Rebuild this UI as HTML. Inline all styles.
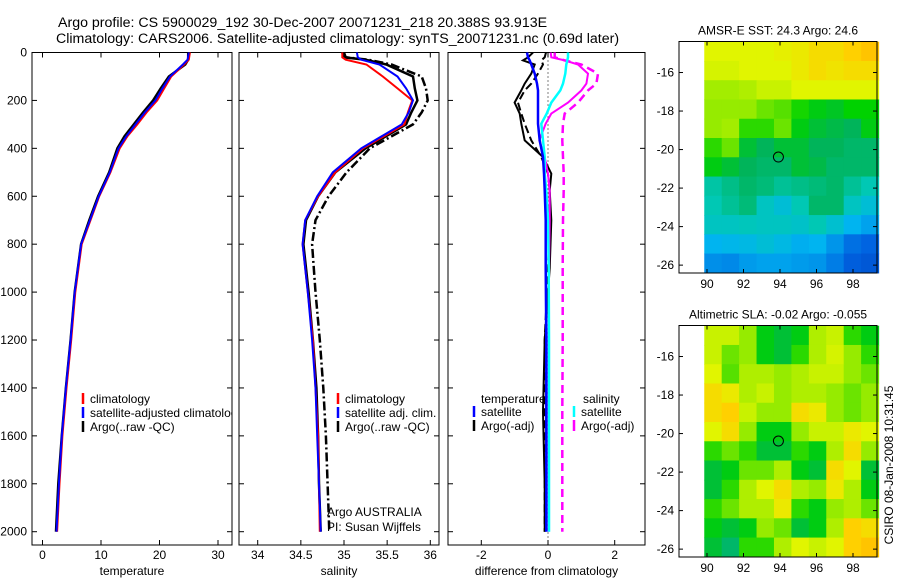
<!DOCTYPE html>
<html><head><meta charset="utf-8"><style>
html,body{margin:0;padding:0;background:#fff}
svg{display:block;font-family:"Liberation Sans",sans-serif}
text{font-size:12px;fill:#000}
</style></head><body>
<svg id="chart" xmlns="http://www.w3.org/2000/svg" width="900" height="580" viewBox="0 0 900 580">
<defs>
<clipPath id="c1"><rect x="32" y="52" width="200" height="493"/></clipPath>
<clipPath id="c2"><rect x="239" y="52" width="200" height="493"/></clipPath>
<clipPath id="c3"><rect x="448" y="52" width="197" height="493"/></clipPath>
</defs>
<text x="58" y="27" style="font-size:14.2px">Argo profile: CS 5900029_192 30-Dec-2007 20071231_218 20.388S 93.913E</text>
<text x="56" y="43" style="font-size:14.2px">Climatology: CARS2006. Satellite-adjusted climatology: synTS_20071231.nc (0.69d later)</text>
<g id="g"></g>
<text transform="translate(893,465) rotate(-90)" text-anchor="middle" style="font-size:12px">CSIRO 08-Jan-2008 10:31:45</text>
</svg>
<script>
// ---- data ----
const depthT = [0,30,50,100,150,200,250,300,350,400,500,600,700,800,1000,1200,1400,1600,1800,2000];
const tempClim = [25.2,25.0,24.2,22.0,20.8,19.6,17.8,16.2,14.5,13.2,11.6,9.7,8.2,6.7,5.6,4.9,4.1,3.4,2.9,2.5];
const tempSat  = [25.0,24.8,24.0,21.8,20.5,19.3,17.5,15.9,14.3,13.0,11.5,9.6,8.1,6.6,5.5,4.8,4.0,3.3,2.8,2.4];
const tempArgo = [24.9,24.9,24.4,21.6,20.2,18.9,17.2,15.6,14.0,12.8,11.4,9.5,8.0,6.6,5.5,4.8,4.0,3.3,2.7,2.3];
const depthS = [0,20,30,50,100,150,200,250,300,400,500,600,700,800,1000,1200,1400,1600,1800,2000];
const salClim = [34.98,34.98,35.02,35.26,35.45,35.62,35.79,35.74,35.7,35.22,34.9,34.7,34.55,34.52,34.58,34.64,34.67,34.7,34.71,34.72];
const salSat  = [35.15,35.16,35.2,35.41,35.62,35.72,35.8,35.75,35.67,35.2,34.87,34.69,34.55,34.52,34.58,34.63,34.67,34.69,34.71,34.73];
const salArgo = [34.98,35.0,35.25,35.49,35.8,35.82,35.85,35.78,35.72,35.25,34.9,34.7,34.56,34.53,34.59,34.64,34.68,34.7,34.71,34.73];
const salArgoQC=[35.0,35.02,35.28,35.55,35.9,35.95,35.97,35.9,35.8,35.3,35.03,34.82,34.67,34.63,34.67,34.72,34.76,34.79,34.81,34.83];
const depthD = [0,20,33,50,88,130,158,209,255,297,367,436,506,576,700,900,1200,1500,1800,2000];
const dTsat  = [-0.63,-0.6,-0.55,-0.5,-0.4,-0.33,-0.3,-0.3,-0.3,-0.3,-0.25,-0.15,-0.12,-0.1,-0.07,-0.07,-0.05,-0.05,-0.05,-0.05];
const dTargo = [-0.45,-0.6,-0.75,-0.4,-0.5,-0.7,-0.8,-1.0,-0.85,-0.8,-0.7,-0.15,0.1,0.05,0.1,0.05,-0.1,-0.15,-0.1,-0.1];
const dTadj  = [-0.06,-0.1,-0.2,-0.15,-0.3,-0.5,-0.7,-0.9,-0.8,-0.7,-0.5,-0.2,0.0,0.05,0.05,0.0,-0.1,-0.1,-0.1,-0.1];
const dSsat  = [0.6,0.6,0.58,0.55,0.52,0.45,0.37,0.1,-0.04,-0.2,-0.15,-0.1,-0.1,-0.05,0.0,0.02,0.03,0.03,0.03,0.03];
const dSargo = [0.08,0.1,0.5,0.9,1.2,1.15,1.0,0.6,0.1,-0.07,-0.26,-0.1,0.0,0.05,0.05,0.03,0.02,0.02,0.02,0.02];
const dSadj  = [0.2,0.2,0.5,1.0,1.5,1.45,1.2,0.9,0.5,0.45,0.43,0.45,0.47,0.47,0.45,0.44,0.44,0.43,0.43,0.43];
const depthTicks = [0,200,400,600,800,1000,1200,1400,1600,1800,2000];
const tempTicks = [0,10,20,30];
const salTicks = [34,34.5,35,35.5,36];
const diffTicks = [-2,0,2];
const lonTicks = [90,92,94,96,98];
const latTicks = [-16,-18,-20,-22,-24,-26];
const sstGrid = [
[0.66,0.66,0.66,0.66,0.67,0.68,0.70,0.70,0.72,0.74],
[0.65,0.65,0.66,0.66,0.66,0.68,0.70,0.69,0.70,0.70],
[0.61,0.61,0.62,0.64,0.64,0.66,0.66,0.66,0.66,0.66],
[0.60,0.60,0.60,0.58,0.57,0.54,0.52,0.51,0.53,0.53],
[0.60,0.61,0.55,0.55,0.58,0.52,0.50,0.49,0.48,0.52],
[0.55,0.58,0.50,0.48,0.50,0.50,0.48,0.48,0.47,0.47],
[0.52,0.50,0.48,0.47,0.47,0.50,0.49,0.47,0.47,0.47],
[0.43,0.45,0.47,0.46,0.44,0.45,0.46,0.47,0.44,0.42],
[0.42,0.44,0.46,0.40,0.37,0.42,0.47,0.47,0.40,0.37],
[0.40,0.40,0.41,0.40,0.40,0.39,0.42,0.38,0.33,0.30],
[0.33,0.34,0.35,0.37,0.35,0.32,0.33,0.28,0.22,0.20],
[0.27,0.26,0.29,0.30,0.30,0.29,0.28,0.24,0.18,0.16]];
const slaGrid = [
[0.64,0.64,0.60,0.52,0.50,0.52,0.62,0.64,0.55,0.52],
[0.64,0.58,0.60,0.52,0.50,0.55,0.62,0.65,0.60,0.55],
[0.66,0.57,0.62,0.62,0.60,0.62,0.64,0.64,0.60,0.58],
[0.70,0.68,0.62,0.64,0.60,0.62,0.62,0.60,0.58,0.60],
[0.70,0.72,0.64,0.60,0.60,0.70,0.68,0.60,0.58,0.60],
[0.66,0.70,0.60,0.52,0.52,0.60,0.64,0.64,0.68,0.66],
[0.55,0.58,0.55,0.50,0.50,0.55,0.52,0.62,0.70,0.60],
[0.50,0.52,0.58,0.58,0.62,0.52,0.50,0.70,0.66,0.50],
[0.50,0.55,0.62,0.66,0.70,0.62,0.60,0.68,0.62,0.52],
[0.55,0.58,0.62,0.62,0.68,0.55,0.52,0.60,0.62,0.58],
[0.52,0.50,0.52,0.60,0.58,0.50,0.52,0.62,0.72,0.70],
[0.50,0.47,0.55,0.55,0.62,0.66,0.64,0.66,0.72,0.74]];
const profileLon = 93.913, profileLat = -20.388;

// ---- drawing ----
const NS='http://www.w3.org/2000/svg';
const G=document.getElementById('g');
function mk(tag,attrs,parent){const e=document.createElementNS(NS,tag);for(const k in attrs)e.setAttribute(k,attrs[k]);(parent||G).appendChild(e);return e;}
function lin(d0,d1,r0,r1){return v=>r0+(v-d0)*(r1-r0)/(d1-d0);}
const yD = lin(0,2000,52.5,531.7);

function panel(name,x0,x1,xs,xt,label){
  const fr=mk('rect',{x:x0,y:52.5,width:x1-x0,height:545-52.5,fill:'none',stroke:'#000','stroke-width':1});
  
  
  depthTicks.forEach(d=>{
    const y=yD(d);
    const t=mk('line',{x1:x0,x2:x0+5,y1:y,y2:y,stroke:'#000'});
    
    
    mk('line',{x1:x1,x2:x1-5,y1:y,y2:y,stroke:'#000'});
  });
  xt.forEach(v=>{
    const x=xs(v);
    mk('line',{x1:x,x2:x,y1:545,y2:540,stroke:'#000'});
    mk('line',{x1:x,x2:x,y1:52.5,y2:57.5,stroke:'#000'});
    const tl=mk('text',{x:x,y:559,'text-anchor':'middle'});tl.textContent=v;
    
    
  });
  const xl=mk('text',{x:(x0+x1)/2,y:575,'text-anchor':'middle'});xl.textContent=label;
  
  
}
depthTicks.forEach(d=>{
  const t=mk('text',{x:27,y:yD(d)+4,'text-anchor':'end'});t.textContent=d;
  
  
});
function series(name,xs,vals,depths,color,w,dash,clip){
  const pts=vals.map((v,i)=>xs(v).toFixed(1)+','+yD(depths[i]).toFixed(1)).join(' ');
  const a={points:pts,fill:'none',stroke:color,'stroke-width':w,'clip-path':'url(#'+clip+')'};
  if(dash)a['stroke-dasharray']=dash;
  const p=mk('polyline',a);
  
  
}
function legend(name,x,y,color,label){
  const b=mk('line',{x1:x,x2:x,y1:y-6,y2:y+5,stroke:color,'stroke-width':2.5});
  
  
  if(label!==null){const t=mk('text',{x:x+7,y:y+4});t.textContent=label;
  
  }
}
function txt(name,x,y,s,clip){const t=mk('text',{x:x,y:y});t.textContent=s;if(clip)t.setAttribute('clip-path','url(#'+clip+')');
  
  return t;}

const xT=lin(0,30,42.5,218);
panel('temperature-panel',32,232,xT,tempTicks,'temperature');
series('temp-argo-line',xT,tempArgo,depthT,'#000',2.5,null,'c1');
series('temp-clim-line',xT,tempClim,depthT,'#f00',2,null,'c1');
series('temp-sat-line',xT,tempSat,depthT,'#00f',2,null,'c1');
legend('legend-climatology-1',83,399,'#f00',null);txt('legend-climatology-1-label',90,403,'climatology','c1');
legend('legend-satellite-1',83,413,'#00f',null);txt('legend-satellite-1-label',90,417,'satellite-adjusted climatology','c1');
legend('legend-argo-1',83,427,'#000',null);txt('legend-argo-1-label',90,431,'Argo(..raw -QC)','c1');

const xS=lin(34,36,257.7,430.3);
panel('salinity-panel',239,439,xS,salTicks,'salinity');
series('sal-argo-qc-line',xS,salArgoQC,depthS,'#000',2.5,'9,3,2,3','c2');
series('sal-argo-line',xS,salArgo,depthS,'#000',2.5,null,'c2');
series('sal-clim-line',xS,salClim,depthS,'#f00',2,null,'c2');
series('sal-sat-line',xS,salSat,depthS,'#00f',2,null,'c2');
legend('legend-climatology-2',338,399,'#f00','climatology');
legend('legend-satellite-2',338,413,'#00f','satellite adj. clim.');
legend('legend-argo-2',338,427,'#000','Argo(..raw -QC)');
txt('argo-australia-label',327,516,'Argo AUSTRALIA');
txt('pi-label',327,531,'PI: Susan Wijffels');

const xDf=lin(-2,2,481.3,614.7);
panel('difference-panel',448,645,xDf,diffTicks,'difference from climatology');
mk('line',{x1:xDf(0),x2:xDf(0),y1:52.5,y2:545,stroke:'#000','stroke-dasharray':'1,3'});
series('diff-sal-adj-line',xDf,dSadj,depthD,'#f0f',2.5,'8,5','c3');
series('diff-temp-adj-line',xDf,dTadj,depthD,'#000',2,'8,4','c3');
series('diff-temp-argo-line',xDf,dTargo,depthD,'#000',2,null,'c3');
series('diff-sal-argo-line',xDf,dSargo,depthD,'#f0f',2,null,'c3');
series('diff-sal-sat-line',xDf,dSsat,depthD,'#0ff',2.5,null,'c3');
series('diff-temp-sat-line',xDf,dTsat,depthD,'#00f',2.5,null,'c3');
txt('legend-temperature-heading',481,403,'temperature');
txt('legend-salinity-heading',583,403,'salinity');
legend('legend-temp-satellite',474,412,'#00f','satellite');
legend('legend-temp-argo',474,426,'#000','Argo(-adj)');
legend('legend-sal-satellite',574,412,'#0ff','satellite');
legend('legend-sal-argo',574,426,'#f0f','Argo(-adj)');

const stops=[[0,[0,40,170]],[0.2,[0,100,225]],[0.33,[0,180,240]],[0.42,[0,200,180]],[0.48,[0,180,90]],[0.53,[0,210,0]],[0.6,[150,235,0]],[0.66,[225,245,0]],[0.72,[255,208,0]],[0.8,[255,160,0]],[1,[200,0,0]]];
function cmap(v){for(let i=1;i<stops.length;i++){if(v<=stops[i][0]){const a=stops[i-1],b=stops[i],f=(v-a[0])/(b[0]-a[0]);const c=a[1].map((x,k)=>Math.round(x+(b[1][k]-x)*f));return 'rgb('+c.join(',')+')';}}return 'rgb(200,0,0)';}
function map(name,top,bottom,grid,title){
  const xL=lin(90,98,707,853), yL=lin(-16,-26,top+(bottom-top)*0.134,top+(bottom-top)*0.966);
  const lon0=89.85,lon1=99.4,lat0=-14.4,lat1=-26.4;
  const nr=grid.length,nc=grid[0].length;
  grid.forEach((row,r)=>row.forEach((v,c)=>{
    const la=lat0+(lat1-lat0)*r/nr, lb=lat0+(lat1-lat0)*(r+1)/nr;
    const oa=lon0+(lon1-lon0)*c/nc, ob=lon0+(lon1-lon0)*(c+1)/nc;
    const cell=mk('rect',{x:xL(oa),y:yL(la),width:xL(ob)-xL(oa)+0.6,height:yL(lb)-yL(la)+0.6,fill:cmap(v)});
    
    
  }));
  const fr=mk('rect',{x:679,y:top,width:198,height:bottom-top,fill:'none',stroke:'#000'});
  
  
  lonTicks.forEach(v=>{const x=xL(v);mk('line',{x1:x,x2:x,y1:top,y2:top+4,stroke:'#000'});mk('line',{x1:x,x2:x,y1:bottom,y2:bottom-4,stroke:'#000'});
    const t=mk('text',{x:x,y:bottom+15,'text-anchor':'middle'});t.textContent=v;
    
    });
  latTicks.forEach(v=>{const y=yL(v);mk('line',{x1:679,x2:683,y1:y,y2:y,stroke:'#000'});mk('line',{x1:877,x2:873,y1:y,y2:y,stroke:'#000'});
    const t=mk('text',{x:674,y:y+4,'text-anchor':'end'});t.textContent=v;
    
    });
  const c=mk('circle',{cx:xL(profileLon),cy:yL(profileLat),r:5,fill:'none',stroke:'#000'});
  
  
  const t=mk('text',{x:778,y:top-7,'text-anchor':'middle'});t.textContent=title;
  
  
}
map('sst-map',41.5,273,sstGrid,'AMSR-E SST: 24.3 Argo: 24.6');
map('sla-map',325.5,557,slaGrid,'Altimetric SLA: -0.02 Argo: -0.055');
</script>
</body></html>
